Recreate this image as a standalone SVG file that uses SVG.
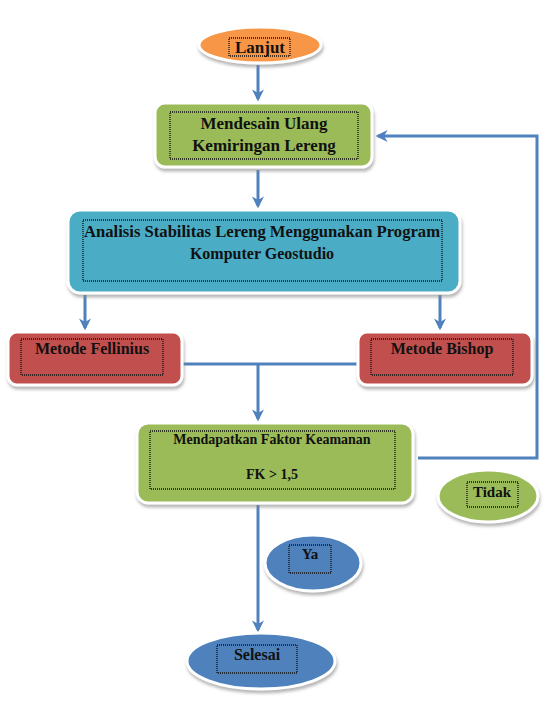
<svg xmlns="http://www.w3.org/2000/svg" width="544" height="702" viewBox="0 0 544 702">
<style>
.shape{stroke:#ffffff;stroke-width:3;filter:url(#sh)}
.tb{fill:none;stroke:#111;stroke-width:1.3;stroke-dasharray:1 1}
.t{font-family:"Liberation Serif","Times New Roman",serif;font-weight:bold;fill:#111;text-anchor:middle}
.c{fill:none;stroke:#4F81BD;stroke-width:3}
</style>
<defs>
<filter id="sh" x="-10%" y="-10%" width="125%" height="130%">
<feDropShadow dx="1" dy="3" stdDeviation="1.5" flood-color="#888" flood-opacity="0.6"/>
</filter>
<marker id="ah" viewBox="0 0 10 10" refX="8" refY="5" markerWidth="4" markerHeight="4" orient="auto" markerUnits="strokeWidth">
<path d="M0,0 L10,5 L0,10 L3,5 Z" fill="#4F81BD"/>
</marker>
</defs>
<rect width="544" height="702" fill="#ffffff"/>
<g id="connectors">
<line class="c" x1="258" y1="65" x2="258" y2="99" marker-end="url(#ah)"/>
<line class="c" x1="258" y1="170" x2="258" y2="206" marker-end="url(#ah)"/>
<line class="c" x1="85" y1="295" x2="85" y2="328" marker-end="url(#ah)"/>
<line class="c" x1="440" y1="295" x2="440" y2="328" marker-end="url(#ah)"/>
<line class="c" x1="182" y1="364" x2="363" y2="364"/>
<line class="c" x1="258" y1="364" x2="258" y2="419" marker-end="url(#ah)"/>
<polyline class="c" points="418,458 537,458 537,136 378,136" marker-end="url(#ah)"/>
<line class="c" x1="258" y1="505" x2="258" y2="630" marker-end="url(#ah)"/>
</g>
<g id="lanjut">
<ellipse class="shape" cx="260" cy="45" rx="61" ry="18" fill="#F79646"/>
<rect class="tb" x="229" y="38" width="61" height="18"/>
<text class="t" x="260" y="53" font-size="17">Lanjut</text>
</g>
<g id="mendesain">
<rect class="shape" x="155" y="103" width="217" height="64" rx="10" fill="#9BBB59"/>
<rect class="tb" x="170" y="112" width="188" height="47"/>
<text class="t" x="264" y="129" font-size="17">Mendesain Ulang</text>
<text class="t" x="264" y="151" font-size="17">Kemiringan Lereng</text>
</g>
<g id="analisis">
<rect class="shape" x="68" y="210" width="392" height="83" rx="12" fill="#4BACC6"/>
<rect class="tb" x="83" y="220" width="359" height="61"/>
<text class="t" x="262" y="237" font-size="16" textLength="356" lengthAdjust="spacingAndGlyphs">Analisis Stabilitas Lereng Menggunakan Program</text>
<text class="t" x="262" y="259" font-size="16">Komputer Geostudio</text>
</g>
<g id="fellinius">
<rect class="shape" x="8" y="332" width="174" height="53" rx="9" fill="#C0504D"/>
<rect class="tb" x="21" y="339" width="142" height="36"/>
<text class="t" x="92" y="354" font-size="16">Metode Fellinius</text>
</g>
<g id="bishop">
<rect class="shape" x="358" y="332" width="174" height="53" rx="9" fill="#C0504D"/>
<rect class="tb" x="371" y="339" width="142" height="36"/>
<text class="t" x="442" y="354" font-size="16">Metode Bishop</text>
</g>
<g id="faktor">
<rect class="shape" x="137" y="423" width="276" height="80" rx="11" fill="#9BBB59"/>
<rect class="tb" x="150" y="431" width="245" height="58"/>
<text class="t" x="272" y="444" font-size="14">Mendapatkan Faktor Keamanan</text>
<text class="t" x="272" y="479" font-size="14">FK &gt; 1,5</text>
</g>
<g id="tidak">
<ellipse class="shape" cx="488" cy="496" rx="50" ry="26" fill="#9BBB59"/>
<rect class="tb" x="467" y="482" width="51" height="25"/>
<text class="t" x="492" y="497" font-size="15">Tidak</text>
</g>
<g id="ya">
<ellipse class="shape" cx="313" cy="563" rx="48" ry="28" fill="#4F81BD"/>
<rect class="tb" x="289" y="545" width="42" height="28"/>
<text class="t" x="310" y="559" font-size="15">Ya</text>
</g>
<g id="selesai">
<ellipse class="shape" cx="261" cy="661" rx="74" ry="28" fill="#4F81BD"/>
<rect class="tb" x="217" y="645" width="80" height="28"/>
<text class="t" x="257" y="660" font-size="16">Selesai</text>
</g>
</svg>
